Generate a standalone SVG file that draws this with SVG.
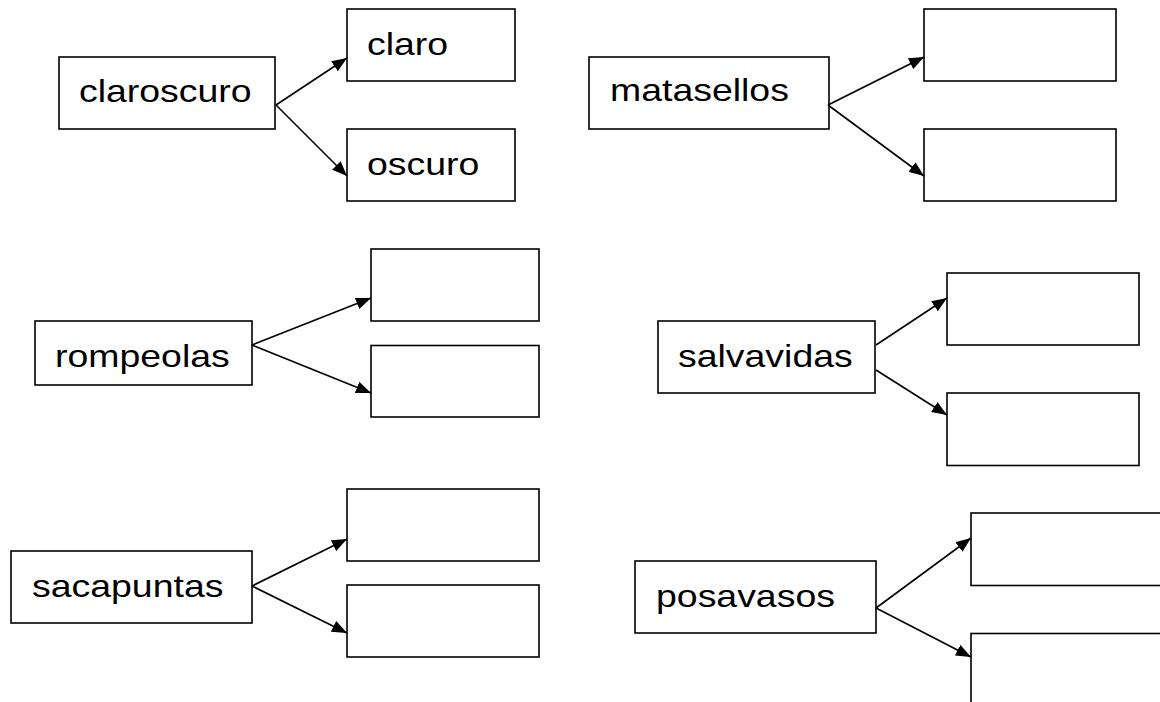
<svg xmlns="http://www.w3.org/2000/svg" width="1160" height="702" viewBox="0 0 1160 702">
<style>
.box{fill:#fff;stroke:#000;stroke-width:1.6}
.lbl{font-family:"Liberation Sans",Arial,sans-serif;font-size:32px;fill:#000}
.con{stroke:#000;stroke-width:1.6;fill:none;marker-end:url(#ah)}
</style>
<defs>
<marker id="ah" markerUnits="userSpaceOnUse" markerWidth="15" markerHeight="12" refX="15" refY="6" orient="auto">
<path d="M0,0 L15,6 L0,12 z" fill="#000"/>
</marker>
</defs>
<rect width="1160" height="702" fill="#fff"/>
<g id="claroscuro"><rect class="box" x="59" y="57" width="216" height="72"/><text class="lbl" transform="translate(79,102) scale(1.17,1)">claroscuro</text></g>
<g id="claro"><rect class="box" x="347" y="9" width="168" height="72"/><text class="lbl" transform="translate(367,55) scale(1.17,1)">claro</text></g>
<g id="oscuro"><rect class="box" x="347" y="129" width="168" height="72"/><text class="lbl" transform="translate(367,175) scale(1.17,1)">oscuro</text></g>
<g id="matasellos"><rect class="box" x="589" y="57" width="240" height="72"/><text class="lbl" transform="translate(610,101) scale(1.17,1)">matasellos</text></g>
<g id="matasellos-a"><rect class="box" x="924" y="9" width="192" height="72"/></g>
<g id="matasellos-b"><rect class="box" x="924" y="129" width="192" height="72"/></g>
<g id="rompeolas"><rect class="box" x="35" y="321" width="217" height="64"/><text class="lbl" transform="translate(55,366.5) scale(1.17,1)">rompeolas</text></g>
<g id="rompeolas-a"><rect class="box" x="371" y="249" width="168" height="72"/></g>
<g id="rompeolas-b"><rect class="box" x="371" y="345.5" width="168" height="71.5"/></g>
<g id="salvavidas"><rect class="box" x="658" y="321" width="217" height="72"/><text class="lbl" transform="translate(678,367) scale(1.17,1)">salvavidas</text></g>
<g id="salvavidas-a"><rect class="box" x="947" y="273" width="192" height="72"/></g>
<g id="salvavidas-b"><rect class="box" x="947" y="393" width="192" height="72.5"/></g>
<g id="sacapuntas"><rect class="box" x="11" y="551" width="241" height="72"/><text class="lbl" transform="translate(32,597) scale(1.17,1)">sacapuntas</text></g>
<g id="sacapuntas-a"><rect class="box" x="347" y="489" width="192" height="72"/></g>
<g id="sacapuntas-b"><rect class="box" x="347" y="585" width="192" height="72"/></g>
<g id="posavasos"><rect class="box" x="635" y="561" width="241" height="72"/><text class="lbl" transform="translate(656,607) scale(1.17,1)">posavasos</text></g>
<g id="posavasos-a"><rect class="box" x="971" y="513" width="240" height="72.5"/></g>
<g id="posavasos-b"><rect class="box" x="971" y="633.5" width="240" height="90"/></g>
<g id="connectors">
<line class="con" x1="276" y1="105" x2="347" y2="58"/>
<line class="con" x1="276" y1="105" x2="347" y2="176"/>
<line class="con" x1="828" y1="105" x2="924" y2="57"/>
<line class="con" x1="828" y1="105" x2="924" y2="176"/>
<line class="con" x1="252" y1="345" x2="371" y2="298"/>
<line class="con" x1="252" y1="345" x2="371" y2="393"/>
<line class="con" x1="876" y1="345" x2="947" y2="298"/>
<line class="con" x1="876" y1="370" x2="947" y2="415"/>
<line class="con" x1="252" y1="586" x2="347" y2="539"/>
<line class="con" x1="252" y1="586" x2="347" y2="633"/>
<line class="con" x1="876" y1="608" x2="971" y2="538"/>
<line class="con" x1="876" y1="608" x2="971" y2="657"/>
</g>
</svg>
